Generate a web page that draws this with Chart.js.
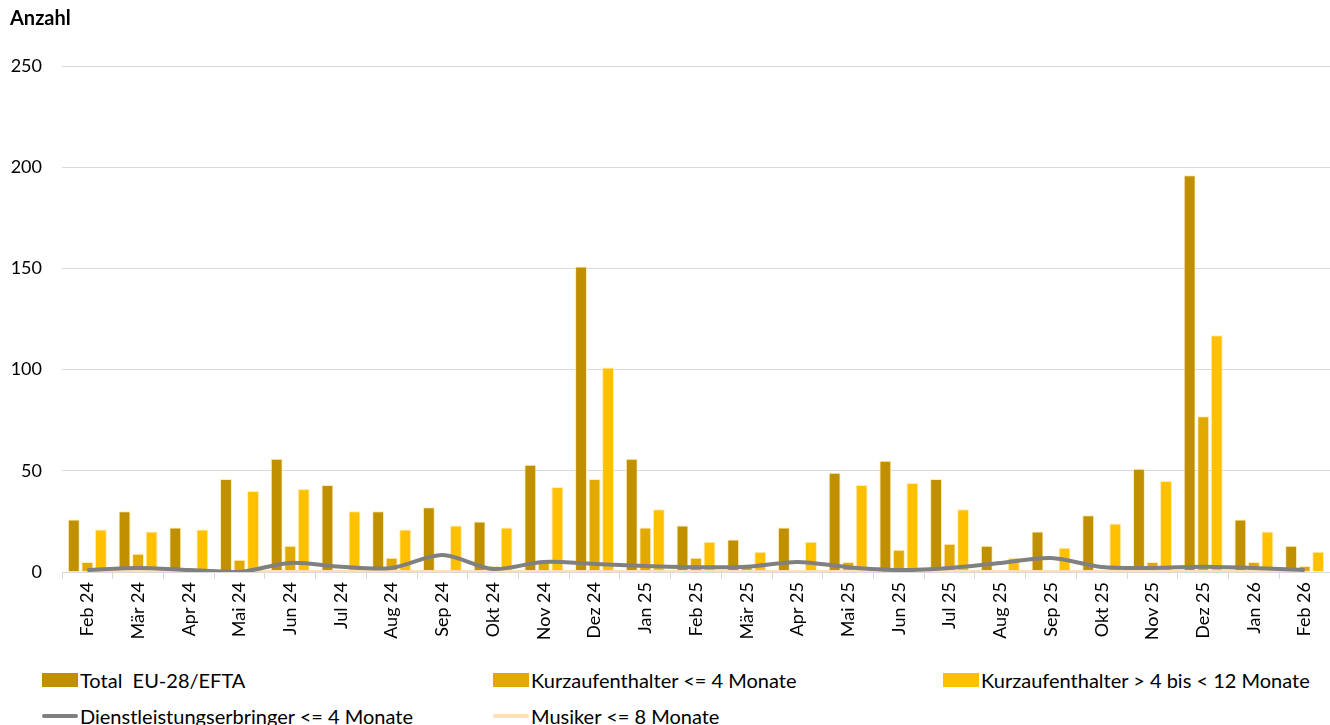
<!DOCTYPE html>
<html>
<head>
<meta charset="utf-8">
<script src="https://cdn.jsdelivr.net/npm/chart.js@4.4.1/dist/chart.umd.min.js"></script>
<style>
  body { margin: 0; background: #fff; font-family: Lato, sans-serif; }
  #wrap { position: relative; width: 1330px; height: 725px; }
  #chart { position: absolute; left: 0; top: 0; }
  #yTitle { position: absolute; left: 10px; top: 5px; font-weight: bold; font-size: 20px; }
  .leg { position: absolute; font-size: 20px; color: #000; white-space: pre; line-height: 20px; }
  .sw { position: absolute; }
</style>
</head>
<body>
<div id="wrap">
  <canvas id="chart" width="1330" height="640"></canvas>
  <div id="yTitle">Anzahl</div>
  <div id="legend"></div>
</div>
<script>
// CHART DATA
const months = ['Feb 24', 'Mär 24', 'Apr 24', 'Mai 24', 'Jun 24', 'Jul 24', 'Aug 24', 'Sep 24', 'Okt 24', 'Nov 24', 'Dez 24',
  'Jan 25', 'Feb 25', 'Mär 25', 'Apr 25', 'Mai 25', 'Jun 25', 'Jul 25', 'Aug 25', 'Sep 25', 'Okt 25', 'Nov 25', 'Dez 25',
  'Jan 26', 'Feb 26'];
const total = [26, 30, 22, 46, 56, 43, 30, 32, 25, 53, 151, 56, 23, 16, 22, 49, 55, 46, 13, 20, 28, 51, 196, 26, 13];
const kurzBis4 = [5, 9, 0, 6, 13, 0, 7, 0, 3, 5, 46, 22, 7, 3, 1, 5, 11, 14, 1, 1, 0, 5, 77, 5, 3];
const kurzBis12 = [21, 20, 21, 40, 41, 30, 21, 23, 22, 42, 101, 31, 15, 10, 15, 43, 44, 31, 7, 12, 24, 45, 117, 20, 10];
const dienst = [1, 2, 1, 0, 4.5, 2.6, 2, 8.4, 1.5, 5, 4, 3, 2.4, 2.6, 5, 2.4, 1, 2, 4.5, 6.9, 2.5, 2, 2.6, 2, 1];
const musiker = [0, 0, 0, 0, 0, 0, 0, 0, 0, 0, 0, 0, 0, 0, 0, 0, 0, 0, 0, 0, 0, 0, 0, 0, 0];
const yTicks = [0, 50, 100, 150, 200, 250];

const colTotal = '#C19000';
const colKurz4 = '#E2A900';
const colKurz12 = '#FFC000';
const colDienst = '#808080';
const colMusiker = '#FFE0B4';

// LEGEND (two rows, three columns)
const legendItems = [
  { label: 'Total  EU-28/EFTA', color: colTotal, type: 'box', x: 42, y: 680 },
  { label: 'Kurzaufenthalter <= 4 Monate', color: colKurz4, type: 'box', x: 493, y: 680 },
  { label: 'Kurzaufenthalter > 4 bis < 12 Monate', color: colKurz12, type: 'box', x: 943, y: 680 },
  { label: 'Dienstleistungserbringer <= 4 Monate', color: colDienst, type: 'line', x: 42, y: 716 },
  { label: 'Musiker <= 8 Monate', color: colMusiker, type: 'line', x: 493, y: 716 }
];
const legend = document.getElementById('legend');
legendItems.forEach(item => {
  const sw = document.createElement('div');
  sw.className = 'sw';
  sw.style.background = item.color;
  sw.style.left = item.x + 'px';
  sw.style.width = '36px';
  if (item.type === 'box') {
    sw.style.top = (item.y - 7) + 'px';
    sw.style.height = '14px';
  } else {
    sw.style.top = (item.y - 2) + 'px';
    sw.style.height = '4px';
    sw.style.borderRadius = '2px';
  }
  legend.appendChild(sw);
  const txt = document.createElement('div');
  txt.className = 'leg';
  txt.textContent = item.label;
  txt.style.left = (item.x + 38) + 'px';
  txt.style.top = (item.y - 10) + 'px';
  legend.appendChild(txt);
});

const barBorder = 'rgba(255, 236, 170, 0.9)';
const ctx = document.getElementById('chart').getContext('2d');
const chart = new Chart(ctx, {
  type: 'bar',
  data: {
    labels: months,
    datasets: [
      { type: 'line', label: 'Dienstleistungserbringer <= 4 Monate', data: dienst, borderColor: colDienst,
        borderWidth: 4, pointRadius: 0, tension: 0.3, order: 0 },
      { type: 'line', label: 'Musiker <= 8 Monate', data: musiker, borderColor: colMusiker,
        borderWidth: 4, pointRadius: 0, tension: 0.3, order: 1 },
      { label: 'Total  EU-28/EFTA', data: total, backgroundColor: colTotal, borderColor: barBorder, borderWidth: 1, order: 2 },
      { label: 'Kurzaufenthalter <= 4 Monate', data: kurzBis4, backgroundColor: colKurz4, borderColor: barBorder, borderWidth: 1, order: 2 },
      { label: 'Kurzaufenthalter > 4 bis < 12 Monate', data: kurzBis12, backgroundColor: colKurz12, borderColor: barBorder, borderWidth: 1, order: 2 }
    ]
  },
  options: {
    responsive: false,
    animation: false,
    layout: { padding: { top: 66, right: 0, bottom: 0, left: 0 } },
    datasets: { bar: { categoryPercentage: 0.8, barPercentage: 0.88 } },
    plugins: { legend: { display: false }, tooltip: { enabled: false } },
    scales: {
      x: {
        afterFit: scale => { scale.height = 68; },
        grid: { display: true, drawOnChartArea: false, offset: true, tickLength: 7, color: '#d9d9d9' },
        border: { color: '#d9d9d9' },
        ticks: { minRotation: 90, maxRotation: 90, autoSkip: false, padding: 3, color: '#000',
          font: { family: 'Lato', size: 18 } }
      },
      y: {
        min: 0,
        max: 250,
        afterFit: scale => { scale.width = 62; },
        afterBuildTicks: scale => { scale.ticks = yTicks.map(v => ({ value: v })); },
        grid: { color: '#d9d9d9', drawTicks: false },
        border: { display: false },
        ticks: { padding: 20, color: '#000', font: { family: 'Lato', size: 18 } }
      }
    }
  }
});
</script>
</body>
</html>
